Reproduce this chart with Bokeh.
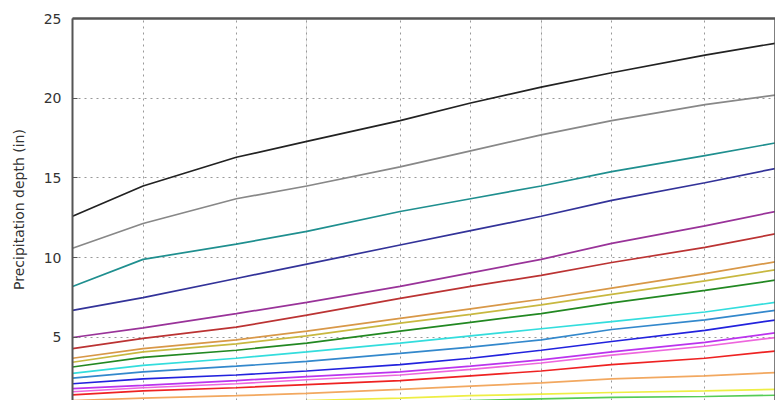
from bokeh.plotting import figure
from bokeh.models import Range1d, FixedTicker, LogAxis, LinearAxis, Grid
from bokeh.embed import file_html
from bokeh.resources import INLINE

# Average recurrence interval (years)
ari = [1, 2, 5, 10, 25, 50, 100, 200, 500, 1000]
x_grid_ticks = [2, 5, 10, 25, 50, 100, 200, 500]
y_ticks = [5, 10, 15, 20, 25]

durations = ["5-min", "10-min", "15-min", "30-min", "60-min", "2-hr", "3-hr", "6-hr",
             "12-hr", "24-hr", "2-day", "3-day", "4-day", "7-day", "10-day", "20-day",
             "30-day", "45-day", "60-day"]

d_5min = [0.30, 0.35, 0.40, 0.45, 0.50, 0.55, 0.60, 0.65, 0.70, 0.75]
d_10min = [0.60, 0.70, 0.80, 0.85, 0.95, 1.05, 1.15, 1.25, 1.30, 1.38]
d_15min = [0.75, 0.85, 0.95, 1.05, 1.20, 1.35, 1.45, 1.55, 1.65, 1.75]
d_30min = [1.05, 1.20, 1.35, 1.50, 1.75, 1.95, 2.15, 2.40, 2.60, 2.80]
d_60min = [1.40, 1.65, 1.85, 2.05, 2.30, 2.60, 2.90, 3.30, 3.70, 4.15]
d_2hr = [1.60, 1.85, 2.10, 2.35, 2.65, 3.00, 3.40, 3.90, 4.45, 5.00]
d_3hr = [1.80, 2.00, 2.30, 2.55, 2.85, 3.20, 3.60, 4.10, 4.70, 5.30]
d_6hr = [2.10, 2.40, 2.65, 2.90, 3.30, 3.70, 4.20, 4.75, 5.45, 6.10]
d_12hr = [2.45, 2.85, 3.20, 3.50, 4.00, 4.40, 4.85, 5.50, 6.10, 6.70]
d_24hr = [2.75, 3.25, 3.70, 4.10, 4.65, 5.10, 5.55, 6.00, 6.60, 7.20]
d_2day = [3.15, 3.75, 4.20, 4.65, 5.40, 5.95, 6.50, 7.17, 7.95, 8.60]
d_3day = [3.45, 4.10, 4.60, 5.10, 5.90, 6.45, 7.05, 7.70, 8.55, 9.25]
d_4day = [3.70, 4.30, 4.85, 5.40, 6.20, 6.80, 7.40, 8.10, 9.00, 9.75]
d_7day = [4.30, 4.95, 5.65, 6.40, 7.45, 8.20, 8.90, 9.70, 10.65, 11.50]
d_10day = [5.00, 5.60, 6.50, 7.20, 8.20, 9.05, 9.90, 10.90, 12.00, 12.90]
d_20day = [6.70, 7.50, 8.70, 9.60, 10.80, 11.70, 12.60, 13.60, 14.70, 15.60]
d_30day = [8.20, 9.90, 10.85, 11.65, 12.90, 13.70, 14.50, 15.40, 16.40, 17.20]
d_45day = [10.60, 12.15, 13.70, 14.50, 15.70, 16.70, 17.70, 18.60, 19.60, 20.20]
d_60day = [12.60, 14.50, 16.30, 17.30, 18.60, 19.70, 20.70, 21.60, 22.70, 23.45]

series = [d_5min, d_10min, d_15min, d_30min, d_60min, d_2hr, d_3hr, d_6hr, d_12hr,
          d_24hr, d_2day, d_3day, d_4day, d_7day, d_10day, d_20day, d_30day, d_45day, d_60day]

colors = ["#e8e8e8", "#55cc55", "#eeee44", "#f2a860", "#ee2222", "#ee66dd", "#bb33ee",
          "#2222dd", "#3388cc", "#33dddd", "#228822", "#c8b840", "#d89848", "#bb3333",
          "#993399", "#333399", "#1f8f8f", "#888888", "#222222"]

p = figure(width=775, height=400, output_backend="svg", toolbar_location=None,
           x_axis_type="log", x_axis_location=None,
           x_range=Range1d(1, 1000), y_range=Range1d(1.05, 25),
           min_border_left=72, min_border_top=18, min_border_bottom=0, min_border_right=0)
p.outline_line_color = None
p.background_fill_color = "white"
p.border_fill_color = "white"

# grids
p.ygrid.ticker = FixedTicker(ticks=y_ticks)
p.ygrid.grid_line_color = "#999999"
p.ygrid.grid_line_dash = "2 4"
p.ygrid.grid_line_width = 1
p.add_layout(Grid(dimension=0, ticker=FixedTicker(ticks=x_grid_ticks),
                  grid_line_color="#999999", grid_line_dash="2 4", grid_line_width=1))

for vals, col, name in zip(series, colors, durations):
    p.line(ari, vals, line_color=col, line_width=1.7)

# left axis
ya = p.yaxis[0]
ya.ticker = FixedTicker(ticks=y_ticks)
ya.axis_label = "Precipitation depth (in)"
ya.axis_label_text_font = "DejaVu Sans"
ya.axis_label_text_font_size = "14px"
ya.axis_label_text_font_style = "normal"
ya.axis_label_text_color = "#333333"
ya.axis_label_standoff = 14
ya.major_label_text_font = "DejaVu Sans"
ya.major_label_text_font_size = "14px"
ya.major_label_text_color = "#333333"
ya.major_label_standoff = 11
ya.major_tick_in = 5
ya.major_tick_out = 0
ya.major_tick_line_color = "#555555"
ya.minor_tick_line_color = None
ya.axis_line_color = "#555555"
ya.axis_line_width = 2

# top border (axis line only)
ta = LogAxis(ticker=FixedTicker(ticks=[]), major_label_standoff=0,
             major_tick_in=0, major_tick_out=0, minor_tick_line_color=None,
             axis_line_color="#555555", axis_line_width=2.5)
p.add_layout(ta, "above")

# right border (axis line only)
ra = LinearAxis(ticker=FixedTicker(ticks=[]), major_label_standoff=0,
                major_tick_in=0, major_tick_out=0, minor_tick_line_color=None,
                axis_line_color="#555555", axis_line_width=2.5)
p.add_layout(ra, "right")

open("out.html", "w").write(file_html(p, INLINE))
